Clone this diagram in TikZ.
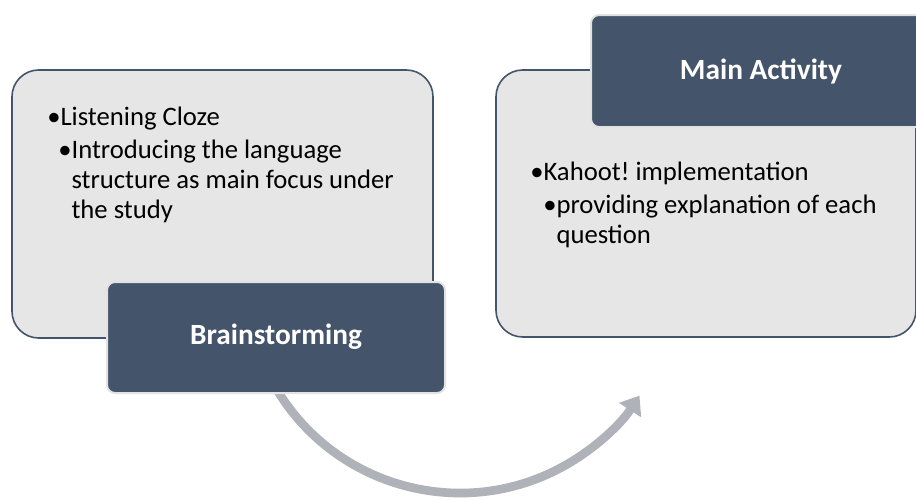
\documentclass[tikz,border=0pt]{standalone}
\usepackage{fontspec}
\setmainfont{Carlito}
\usetikzlibrary{arrows.meta}
\definecolor{slate}{HTML}{44546A}
\definecolor{panelgray}{HTML}{E7E6E6}
\definecolor{arcgray}{HTML}{AFB2B8}
\definecolor{rimgray}{HTML}{E2E2E2}
\frenchspacing

\begin{document}
\begin{tikzpicture}[x=0.75pt, y=-0.75pt,
    panel/.style={draw=slate, fill=panelgray, line width=1.2pt, rounded corners=20pt},
    titlebox/.style={draw=rimgray, fill=slate, line width=1.5pt, rounded corners=6pt},
    item/.style={anchor=base west, inner sep=0pt, font=\fontsize{20}{22.6}\selectfont},
    title/.style={text=white, inner sep=0pt, font=\fontsize{22}{26}\selectfont\bfseries}]
    \useasboundingbox (0,0) rectangle (916,500);
    \clip (0,0) rectangle (916,500);

    % left panel
    \draw [panel] (12,70) rectangle (433,338);
    \node [item] (cloze) at (47,125) {\textbullet Listening Cloze};
    \node [item, align=left] (intro) at (58,158) {\textbullet\begin{tabular}[t]{@{}l@{}}Introducing the language\\structure as main focus under\\the study\end{tabular}};

    % curved arrow
    \draw [arcgray, line width=6.5pt, -{Triangle[length=13pt, width=19pt]}] (460,279) ++(150:214) arc (150:33:214);

    % right panel
    \draw [panel] (496,70) rectangle (916,337);
    \node [item] (kahoot) at (530,180) {\textbullet Kahoot! implementation};
    \node [item, align=left] (explain) at (543,213) {\textbullet\begin{tabular}[t]{@{}l@{}}providing explanation of each\\question\end{tabular}};

    % title boxes
    \draw [titlebox] (107,282) rectangle (445,393);
    \node [title] (brain) at (276,337) {Brainstorming};
    \draw [titlebox] (591,15) rectangle (935,127);
    \node [title] (main) at (761,71) {Main Activity};
\end{tikzpicture}
\end{document}
